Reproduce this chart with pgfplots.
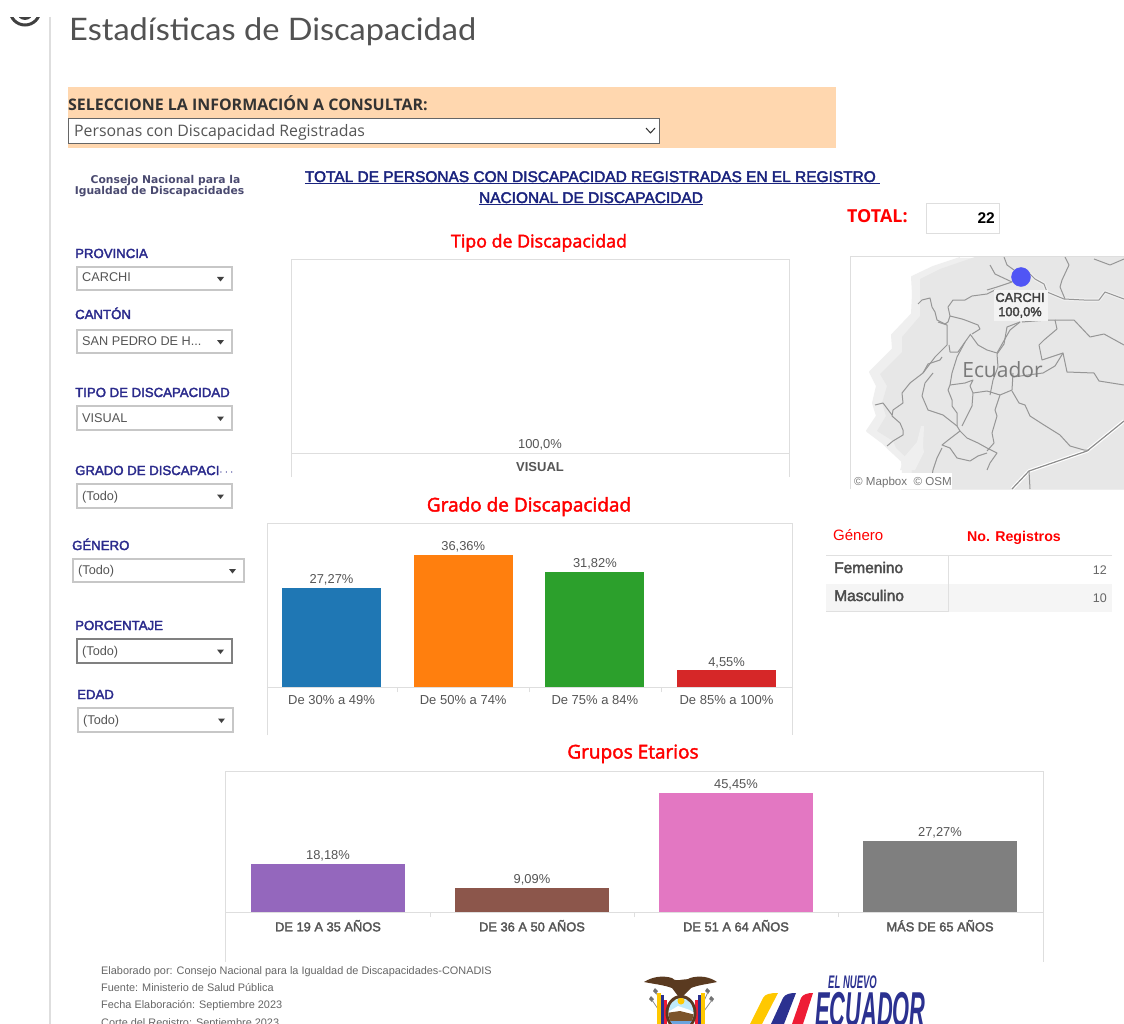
\documentclass[border=0pt]{standalone}
\usepackage{fontspec}
\usepackage{pgfplots}
\pgfplotsset{compat=1.18}
\setmainfont{Liberation Sans}
\newfontfamily\osans{Open Sans}
\newfontfamily\osmed[FakeBold=2.2]{Open Sans}
\newfontfamily\lato{Lato}
\newfontfamily\lsmed[FakeBold=2.5]{Liberation Sans}
\newfontfamily\dvb{DejaVu Sans}
\newcommand\fs[1]{\fontsize{#1}{#1}\selectfont}
\definecolor{navy1}{HTML}{2A2A8C}
\definecolor{hdr}{HTML}{1A237E}
\definecolor{txt}{HTML}{555555}
\definecolor{fr}{HTML}{DEDEDE}
\definecolor{peach}{HTML}{FFD7AF}
\definecolor{land}{HTML}{E7E7E7}
\definecolor{halo}{HTML}{EFEFEF}
\definecolor{bnd}{HTML}{969696}
\definecolor{cb}{HTML}{1F77B4}
\definecolor{co}{HTML}{FF7F0E}
\definecolor{cg}{HTML}{2CA02C}
\definecolor{cr}{HTML}{D62728}
\definecolor{cp}{HTML}{9467BD}
\definecolor{cbr}{HTML}{8C564B}
\definecolor{cpk}{HTML}{E377C2}
\definecolor{cgy}{HTML}{7F7F7F}
\definecolor{dotc}{HTML}{5055F5}
\definecolor{logo}{HTML}{4A4A70}
\definecolor{eny}{HTML}{FFC800}
\definecolor{enb}{HTML}{2B3190}
\definecolor{enr}{HTML}{EE1C35}
\definecolor{wing}{HTML}{5A3A20}
\newcommand\lab[3]{\node[anchor=base west,inner sep=0pt,text=navy1] at (#1,#2) {\lsmed\fs{13.2}#3};}
\newcommand\dd[6]{%
 \draw[#6,line width=1.2pt,fill=white] (#1,#2) rectangle (#3,#4);
 \node[anchor=base west,inner sep=0pt,text=txt] at ({#1+5},{#4-8}) {\fs{12.7}#5};
 \fill[black!75] ({#3-15},{(#2+#4)/2-1.5}) -- ({#3-8},{(#2+#4)/2-1.5}) -- ({#3-11.5},{(#2+#4)/2+3}) -- cycle;
}
\pgfplotsset{dash/.style={
  scale only axis, enlargelimits=false, ymin=0,
  hide y axis, axis x line*=bottom,
  axis line style={-,color=fr},
  xtick={0,1,2,3}, xtick align=outside, major tick length=0pt, minor tick length=5pt,
  minor xtick={0.5,1.5,2.5}, tick style={color=fr},
  /pgf/number format/assume math mode=true,
  nodes near coords={\pgfmathprintnumber[use comma,fixed,fixed zerofill,precision=2]{\pgfplotspointmeta}\%},
  every node near coord/.append style={font=\fs{12.9},text=txt,inner sep=2.6pt},
  ybar, clip=false
},
bl/.style={bnd,line width=1pt,line join=round}}
\begin{document}
\begin{tikzpicture}[x=1pt,y=-1pt]
\path[use as bounding box] (0,0) rectangle (1124,1024);
\clip (0,0) rectangle (1124,1024);
\fill[white] (0,0) rectangle (1124,1024);
% eye icon and rail
\draw[black!75,line width=3pt] (25,10) circle (15);
\fill[black!75] (25,12) circle (8);
\fill[white] (0,0) rectangle (1124,17);
\draw[fr,line width=1.5pt] (50,17) -- (50,1024);
% title
\node[anchor=base west,inner sep=0pt,text=black!68] at (69,40.5) {\scalebox{1.05}[1]{\lato\fs{31}Estadísticas de Discapacidad}};
% selector band
\fill[peach] (68,87) rectangle (836,148);
\node[anchor=base west,inner sep=0pt,text=black!80] at (68,111) {\osans\bfseries\fs{15.95}SELECCIONE LA INFORMACIÓN A CONSULTAR:};
\draw[black!60,line width=0.8pt,fill=white] (68,118) rectangle (659,143);
\node[anchor=base west,inner sep=0pt,text=txt] at (74,136.5) {\osans\fs{15.85}Personas con Discapacidad Registradas};
\draw[black!80,line width=1pt] (646,128) -- (650.5,133) -- (655,128);
% logo text
\node[inner sep=0pt,text=logo] at (165.5,180.5) {\dvb\bfseries\fs{10.75}Consejo Nacional para la};
\node[inner sep=0pt,text=logo] at (159.5,192) {\dvb\bfseries\fs{10.75}Igualdad de Discapacidades};
% header
\node[anchor=base,inner sep=0pt,text=hdr] at (592.5,182) {\lsmed\fs{15.45}\underline{TOTAL DE PERSONAS CON DISCAPACIDAD REGISTRADAS EN EL REGISTRO\ }};
\node[anchor=base,inner sep=0pt,text=hdr] at (591,203) {\lsmed\fs{15.45}\underline{NACIONAL DE DISCAPACIDAD}};
% total
\node[anchor=base west,inner sep=0pt,text=red] at (847,223) {\osans\bfseries\fs{17.9}TOTAL:};
\draw[fr,line width=1pt] (926,204) rectangle (999,234);
\node[anchor=base east,inner sep=0pt] at (995,224) {\bfseries\fs{15.5}22};
% filters
\lab{75}{258}{PROVINCIA}
\dd{77}{267}{232}{290}{CARCHI}{black!22}
\lab{75}{319}{CANTÓN}
\dd{77}{330}{232}{353}{SAN PEDRO DE H...}{black!22}
\lab{75}{397}{TIPO DE DISCAPACIDAD}
\dd{77}{406}{232}{430}{VISUAL}{black!22}
\lab{75}{475}{GRADO DE DISCAPACI$\cdots$}
\dd{77}{484}{232}{508}{(Todo)}{black!22}
\lab{72}{550}{GÉNERO}
\dd{73}{559}{244}{582}{(Todo)}{black!22}
\lab{75}{630}{PORCENTAJE}
\dd{77}{639}{232}{663}{(Todo)}{black!50}
\lab{77}{699}{EDAD}
\dd{78}{708}{233}{732}{(Todo)}{black!22}
% section titles
\node[anchor=base,inner sep=0pt,text=red] at (539,247.5) {\osmed\fs{17.8}Tipo de Discapacidad};
\node[anchor=base,inner sep=0pt,text=red] at (529,511.5) {\osmed\fs{19}Grado de Discapacidad};
\node[anchor=base,inner sep=0pt,text=red] at (633,758.5) {\osmed\fs{19}Grupos Etarios};
% frames
\draw[fr,line width=1pt] (291,477) -- (291,260) -- (789,260) -- (789,477);
\draw[fr,line width=1pt] (267,735) -- (267,523) -- (792,523) -- (792,735);
\draw[fr,line width=1pt] (225,962) -- (225,771) -- (1043,771) -- (1043,962);
% Tipo de Discapacidad
\begin{axis}[dash, at={(291pt,-453pt)}, anchor=south west, width=498pt, height=193pt,
  xmin=-0.5, xmax=0.5, ymax=100, xtick={0}, minor xtick={}, xticklabels={\bfseries VISUAL},
  xticklabel style={font=\fs{13},text=txt,yshift=-6pt},
  nodes near coords={100,0\%}, bar width=100pt, bar shift=0pt]
\addplot[fill=white,draw=none] coordinates {(0,0)};
\end{axis}
% Grado de Discapacidad
\begin{axis}[dash, at={(267pt,-687pt)}, anchor=south west, width=525pt, height=164pt,
  xmin=-0.49, xmax=3.497, ymax=45.18, bar width=99pt, bar shift=0pt,
  xticklabels={De 30\% a 49\%,De 50\% a 74\%,De 75\% a 84\%,De 85\% a 100\%},
  xticklabel style={font=\fs{13},text=txt,yshift=-5pt}]
\addplot[fill=cb,draw=none] coordinates {(0,27.27)};
\addplot[fill=co,draw=none] coordinates {(1,36.36)};
\addplot[fill=cg,draw=none] coordinates {(2,31.82)};
\addplot[fill=cr,draw=none] coordinates {(3,4.55)};
\end{axis}
% Grupos Etarios
\begin{axis}[dash, at={(225pt,-912pt)}, anchor=south west, width=818pt, height=141pt,
  xmin=-0.505, xmax=3.505, ymax=53.86, bar width=154pt, bar shift=0pt,
  xticklabels={DE 19 A 35 AÑOS,DE 36 A 50 AÑOS,DE 51 A 64 AÑOS,MÁS DE 65 AÑOS},
  xticklabel style={font=\lsmed\fs{12.85},text=txt,yshift=-4.5pt}]
\addplot[fill=cp,draw=none] coordinates {(0,18.18)};
\addplot[fill=cbr,draw=none] coordinates {(1,9.09)};
\addplot[fill=cpk,draw=none] coordinates {(2,45.45)};
\addplot[fill=cgy,draw=none] coordinates {(3,27.27)};
\end{axis}
% Map (axis in picture pixels)
\begin{axis}[at={(850pt,-489pt)}, anchor=south west, scale only axis, width=274pt, height=232pt,
  xmin=850, xmax=1124, ymin=257, ymax=489, y dir=reverse, hide axis, clip=true]
\addplot[fill=halo,draw=halo,line width=2pt,line join=round] coordinates {(960,258)(933,267)(912,277)(913,294)(912,314)(892,335)(893,349)(870,372)(877,386)(873,403)(877,416)(867,431)(883,443)(888,448)(902,461)(903,471)(902,489)(1124,489)(1124,257)};
\addplot[fill=land,draw=none] coordinates {(975,257)(940,269)(920,279)(920,294)(920,316)(902,337)(902,352)(880,374)(887,386)(882,403)(886,416)(877,431)(893,441)(896,448)(910,461)(912,471)(910,489)(1124,489)(1124,257)};
\addplot[fill=halo,draw=none] coordinates {(921,426)(924,426)(923,447)(924,452)(915,470)(900,470)(905,456)(917,442)};
% white road halos
\addplot[white,line width=3.5pt,line join=round] coordinates {(1012,489)(1029,471)(1087,451)(1124,421)};
\addplot[halo,line width=3.5pt,line join=round] coordinates {(1030,274)(1035,279)(1044,284)(1047,292)(1064,299)(1084,300)(1099,300)(1105,292)(1124,299)};
% boundaries
\addplot[bl] coordinates {(918,304)(922,300)(930,298)(932,307)(935,312)(937,320)(945,324)(948,322)(950,316)(962,319)(965,320)(978,325)(980,329)(972,334)};
\addplot[bl] coordinates {(950,316)(948,307)(953,300)(965,300)(972,296)(987,294)(995,290)};
\addplot[bl] coordinates {(938,322)(947,325)(947,345)(935,357)(923,373)(910,383)(902,393)(903,403)(893,410)(892,416)(900,423)(903,430)(903,435)(893,441)(887,446)};
\addplot[bl] coordinates {(949,345)(950,352)(958,352)(965,342)(970,335)};
\addplot[bl] coordinates {(965,342)(957,357)(952,373)(950,385)(948,390)(952,400)(952,406)(957,413)(957,426)};
\addplot[bl] coordinates {(942,357)(940,360)(928,364)(923,373)};
\addplot[bl] coordinates {(970,334)(978,345)(987,350)(997,353)(1010,330)(1020,322)};
\addplot[bl] coordinates {(875,405)(883,403)(892,415)};
\addplot[bl] coordinates {(933,373)(925,383)(922,396)(928,410)(943,415)(957,426)(960,431)};
\addplot[bl] coordinates {(950,385)(965,383)(973,380)(970,386)(973,393)(972,406)(962,426)};
\addplot[bl] coordinates {(973,393)(987,391)(1000,395)(1012,390)(1013,373)};
\addplot[bl] coordinates {(960,431)(967,438)(978,443)(987,448)(997,453)(990,463)(987,470)};
\addplot[bl] coordinates {(960,431)(947,441)(942,445)(950,448)(957,458)(970,461)(978,456)(987,453)};
\addplot[bl] coordinates {(942,448)(937,458)(933,470)(930,489)};
\addplot[bl] coordinates {(1000,395)(995,410)(997,416)(992,433)(994,443)(987,451)};
\addplot[bl] coordinates {(1012,391)(1019,403)(1025,405)(1030,416)(1044,425)(1060,435)(1070,446)(1084,450)(1089,450)};
\addplot[black!45,line width=1.2pt,line join=round] coordinates {(1012,489)(1029,471)(1087,451)(1124,421)};
\addplot[bl] coordinates {(1029,471)(1030,489)};
\addplot[bl] coordinates {(1004,257)(1007,265)(1014,270)};
\addplot[bl] coordinates {(990,265)(995,274)(1012,282)(997,287)(987,290)};
\addplot[bl] coordinates {(1030,274)(1035,279)(1044,284)(1047,292)(1064,299)(1084,300)(1099,300)(1105,292)(1124,299)};
\addplot[bl] coordinates {(1065,257)(1069,265)(1062,280)(1060,287)(1065,299)};
\addplot[bl] coordinates {(1094,259)(1110,265)(1124,259)};
\addplot[bl] coordinates {(1020,322)(1007,327)(1004,344)(997,354)(998,367)(993,380)(990,395)};
\addplot[bl] coordinates {(1022,322)(1047,320)(1055,320)(1057,329)(1044,340)(1039,345)(1042,360)(1063,353)(1067,372)(1094,373)(1099,381)(1124,385)};
\addplot[bl] coordinates {(1055,320)(1074,320)(1090,337)(1104,334)(1124,345)};
\addplot[bl] coordinates {(1013,377)(1043,373)(1055,366)(1063,353)};
\addplot[only marks,mark=*,mark size=9.5pt,color=dotc] coordinates {(1021,277)};
\end{axis}
\fill[land!50!white] (994,290) rectangle (1048,321);
\node[inner sep=0pt,text=black!75] at (1020,297.5) {\lsmed\fs{12.8}CARCHI};
\node[inner sep=0pt,text=black!75] at (1020,312.5) {\lsmed\fs{12.8}100,0\%};
\node[inner sep=0pt,text=black!52] at (1002.5,370) {\osans\fs{21}Ecuador};
\fill[white] (852,473) rectangle (952,489);
\node[anchor=base west,inner sep=0pt,text=black!55] at (854,485) {\fs{11.6}© Mapbox ~© OSM};
\draw[fr,line width=1pt] (850,489) -- (850,257) -- (1124,257);
% Gender table
\node[anchor=base west,inner sep=0pt,text=red] at (833,540) {\fs{15}Género};
\node[anchor=base west,inner sep=0pt,text=red] at (967,541) {\bfseries\fs{14.2}No. Registros};
\fill[black!4] (826,584) rectangle (1112,612);
\draw[black!12,line width=0.8pt] (826,555) -- (1112,555) (826,611) -- (948,611) (948,555) -- (948,612);
\node[anchor=base west,inner sep=0pt,text=black!70] at (834,573) {\lsmed\fs{15.5}Femenino};
\node[anchor=base west,inner sep=0pt,text=black!70] at (834,601) {\lsmed\fs{15.5}Masculino};
\node[anchor=base east,inner sep=0pt,text=black!60] at (1107,574) {\fs{12.5}12};
\node[anchor=base east,inner sep=0pt,text=black!60] at (1107,602) {\fs{12.5}10};
% Footer
\foreach \y/\t in {974/{Elaborado por: Consejo Nacional para la Igualdad de Discapacidades-CONADIS},991/{Fuente: Ministerio de Salud Pública},1008.5/{Fecha Elaboración: Septiembre 2023},1026/{Corte del Registro: Septiembre 2023}}
  \node[anchor=base west,inner sep=0pt,text=black!60] at (101,\y) {\fs{10.9}\t};
% emblem
\fill[wing] (644,982) .. controls (652,977) and (662,975) .. (672,978) .. controls (675,981) and (677,980) .. (680,980) .. controls (684,979) and (688,980) .. (690,978) .. controls (700,975) and (710,977) .. (717,982) .. controls (708,984) and (698,985) .. (691,988) -- (683,996) -- (678,996) -- (672,988) .. controls (664,985) and (654,984) .. (644,982) -- cycle;
\fill[black!55] (651,996) -- (654,999) -- (652,1002) -- (649,999) -- cycle;
\fill[black!55] (655,988) -- (658,991) -- (656,994) -- (653,991) -- cycle;
\fill[black!55] (711,996) -- (714,999) -- (712,1002) -- (709,999) -- cycle;
\fill[black!55] (707,988) -- (710,991) -- (708,994) -- (705,991) -- cycle;
\draw[black!45,line width=0.8pt] (652,1000) -- (664,1018) (656,992) -- (664,1012) (712,1000) -- (699,1018) (708,992) -- (699,1012);
\fill[eny] (657,993) rectangle (661,1024);
\fill[enb] (661,995) rectangle (664,1024);
\fill[enr] (664,1000) rectangle (667,1024);
\fill[eny] (701,993) rectangle (705,1024);
\fill[enb] (698,995) rectangle (701,1024);
\fill[enr] (695,1000) rectangle (698,1024);
\fill[wing] (681,1013) ellipse (15.5 and 18);
\begin{scope}
\clip (681,1013) ellipse (12.5 and 15);
\fill[cyan!25!white] (666,996) rectangle (696,1028);
\fill[eny] (681,1001) circle (3.5);
\fill[white] (668,1012) -- (678,1006) -- (690,1010) -- (696,1014) -- (696,1017) -- (668,1017) -- cycle;
\fill[brown!65!black] (666,1013) -- (680,1011) -- (696,1015) -- (696,1022) -- (666,1022) -- cycle;
\fill[cyan!60!blue!60] (666,1021) rectangle (696,1028);
\end{scope}
% El Nuevo Ecuador
\fill[eny] (750,1024) -- (763,998) .. controls (765,994) and (770,993) .. (778,993) -- (762,1024) -- cycle;
\fill[enb] (771,1024) -- (783,998) .. controls (785,994) and (790,993) .. (796,993) -- (784,1024) -- cycle;
\fill[enr] (792,1024) -- (801,998) .. controls (803,994) and (808,993) .. (813,993) -- (803,1024) -- cycle;
\node[anchor=base west,inner sep=0pt,text=enb] at (828,988) {\scalebox{0.56}[1.07]{\itshape\bfseries\fs{17}EL NUEVO}};
\node[anchor=base west,inner sep=0pt,text=enb] at (815,1026) {\scalebox{0.78}[1.75]{\itshape\bfseries\fs{28}ECUADOR}};
\end{tikzpicture}
\end{document}
